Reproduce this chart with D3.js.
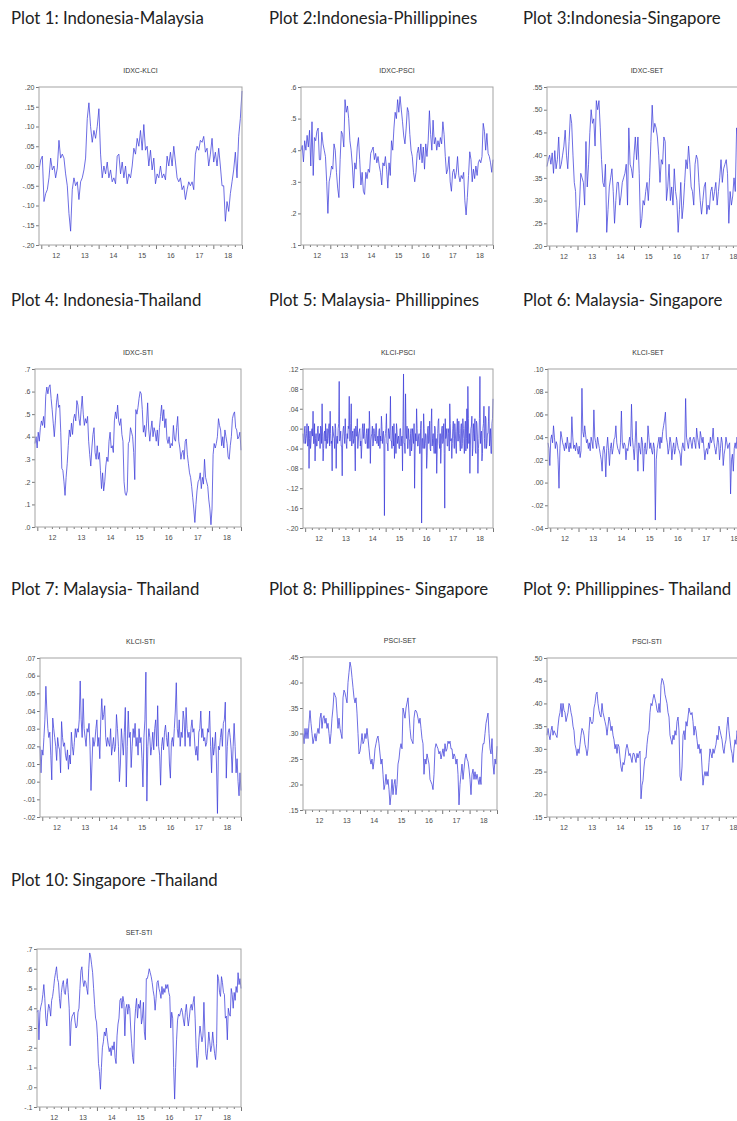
<!DOCTYPE html>
<html lang="en">
<head>
    <meta charset="UTF-8">
    <title>Pairwise correlation plots</title>
    <style>
        body{ margin:0; background:#fff; }
        svg{ display:block; }
        .frame{ fill:none; stroke:#a3a3a3; stroke-width:1; }
        .series{ fill:none; stroke:#3d3dda; stroke-width:.75; stroke-linejoin:round; }
        .axis text{ font-family:"Liberation Sans", Arial, sans-serif; font-size:7px; fill:#4a4a4a; }
        .axis line{ stroke:#777; }
        .axis path{ display:none; }
        .ptitle{ font-family:"Liberation Sans", Arial, sans-serif; font-size:7px; fill:#333; text-anchor:middle; }
        .rtitle{ font-family:Lato, "Open Sans", sans-serif; font-size:16.8px; fill:#222; }
    </style>
    <script src="https://cdn.jsdelivr.net/npm/d3@7"></script>
</head>
<body>
<script>
    const width = 737
    const height = 1121

    // ---- data ----
    const yearLabels = [2012, 2013, 2014, 2015, 2016, 2017, 2018]
    const plotTitles = ["Plot 1: Indonesia-Malaysia", "Plot 2:Indonesia-Phillippines", "Plot 3:Indonesia-Singapore",
        "Plot 4: Indonesia-Thailand", "Plot 5: Malaysia- Phillippines", "Plot 6: Malaysia- Singapore",
        "Plot 7: Malaysia- Thailand", "Plot 8: Phillippines- Singapore", "Plot 9: Phillippines- Thailand",
        "Plot 10: Singapore -Thailand"]
    const seriesNames = ["IDXC-KLCI", "IDXC-PSCI", "IDXC-SET", "IDXC-STI", "KLCI-PSCI",
        "KLCI-SET", "KLCI-STI", "PSCI-SET", "PSCI-STI", "SET-STI"]

    const idxcKlci = [-.01,.015,.025,-.09,-.07,-.06,-.03,.02,-.01,0,-.03,-.005,.065,.02,.03,.02,-.02,-.05,-.12,-.165,-.06,-.03,-.05,-.04,-.085,-.04,-.03,-.01,.02,.12,.16,.10,.06,.09,.07,.10,.145,.03,-.03,0,-.02,.01,-.03,-.01,-.04,-.03,-.045,.025,.03,-.02,.01,-.03,0,-.045,-.02,-.03,0,.045,.03,.07,.05,.09,.04,.105,.04,.05,0,.04,-.01,.02,-.045,-.02,-.03,0,-.03,-.02,-.035,.025,0,.035,0,.05,.01,-.03,-.04,-.03,-.06,-.05,-.085,-.06,-.04,-.05,-.04,-.06,.03,.05,.04,.065,.06,.075,.035,.045,0,.03,.07,.01,.035,0,.045,0,-.05,-.05,-.14,-.09,-.115,-.07,-.04,-.01,.035,-.03,.075,.12,.19]
    const idxcPsci = [.40,.415,.363,.43,.40,.447,.41,.463,.35,.49,.32,.44,.43,.46,.47,.37,.37,.457,.42,.40,.38,.30,.20,.30,.32,.35,.34,.42,.40,.33,.28,.25,.37,.46,.45,.41,.56,.52,.54,.50,.43,.40,.35,.28,.36,.34,.41,.44,.37,.29,.33,.27,.26,.33,.31,.34,.33,.39,.40,.41,.37,.39,.36,.38,.35,.33,.29,.36,.35,.38,.34,.28,.36,.32,.43,.40,.47,.52,.50,.56,.52,.57,.53,.49,.445,.42,.47,.535,.52,.45,.40,.38,.33,.30,.33,.39,.41,.37,.42,.36,.41,.34,.42,.38,.43,.525,.45,.40,.495,.42,.44,.40,.43,.41,.44,.42,.49,.45,.38,.325,.34,.38,.30,.27,.33,.34,.31,.33,.38,.32,.30,.32,.31,.33,.24,.195,.25,.32,.395,.37,.30,.34,.31,.35,.32,.36,.37,.36,.38,.485,.46,.40,.453,.39,.38,.36,.33,.37]
    const idxcSet = [.375,.39,.40,.38,.405,.36,.41,.37,.39,.44,.37,.38,.40,.42,.455,.40,.37,.43,.49,.47,.40,.34,.32,.23,.26,.29,.36,.35,.34,.29,.43,.33,.38,.45,.50,.47,.48,.42,.52,.50,.52,.46,.39,.34,.33,.38,.23,.28,.33,.35,.37,.32,.25,.30,.34,.34,.29,.31,.34,.35,.36,.38,.29,.46,.38,.37,.35,.40,.44,.39,.44,.36,.24,.26,.30,.29,.32,.34,.30,.35,.43,.51,.45,.47,.46,.44,.40,.34,.39,.38,.44,.43,.30,.33,.38,.30,.33,.29,.37,.32,.30,.23,.28,.34,.26,.29,.34,.39,.37,.42,.38,.33,.32,.29,.38,.40,.39,.34,.30,.27,.30,.33,.34,.27,.29,.28,.32,.33,.30,.32,.34,.29,.32,.35,.39,.34,.37,.38,.39,.36,.25,.32,.29,.31,.35,.32,.46,.44,.41,.43,.39,.37,.40,.38,.36]
    const idxcSti = [.37,.40,.35,.42,.38,.44,.47,.45,.49,.44,.58,.62,.59,.62,.63,.57,.52,.46,.40,.47,.55,.59,.53,.54,.42,.26,.25,.20,.14,.22,.28,.36,.43,.40,.46,.41,.48,.50,.47,.56,.54,.48,.45,.52,.58,.50,.45,.48,.46,.49,.38,.32,.27,.35,.41,.44,.33,.30,.36,.30,.33,.25,.17,.24,.16,.20,.27,.31,.29,.38,.42,.35,.36,.33,.47,.51,.48,.54,.47,.45,.48,.41,.38,.20,.15,.14,.16,.37,.38,.44,.42,.40,.33,.21,.52,.50,.53,.57,.60,.59,.52,.42,.45,.40,.46,.55,.43,.38,.43,.47,.40,.44,.42,.38,.43,.36,.44,.49,.54,.47,.52,.44,.48,.39,.37,.40,.35,.37,.36,.45,.39,.38,.44,.49,.38,.35,.30,.33,.34,.30,.38,.39,.32,.28,.24,.22,.18,.13,.08,.02,.10,.16,.20,.21,.24,.17,.22,.19,.30,.22,.20,.18,.12,.08,.01,.08,.32,.37,.35,.37,.40,.48,.45,.43,.36,.40,.35,.43,.40,.37,.31,.30,.36,.40,.48,.50,.51,.44,.43,.39,.40,.42,.34]
    const klciPsci = [-.01,-.025,-.03,0,.005,-.03,-.02,-.01,.01,-.035,-.035,.005,-.08,-.02,-.005,-.04,-.025,-.005,0,-.015,
        .035,-.03,-.03,.01,-.065,-.02,-.01,-.035,-.035,0,.005,-.025,-.02,-.01,-.04,.005,0,-.03,.05,-.015,
        -.065,-.04,-.01,-.005,-.025,.01,-.04,-.02,0,-.03,-.02,0,.01,-.035,.035,-.01,-.03,-.025,-.085,.005,
        -.005,-.015,-.02,-.04,.01,0,-.08,-.02,-.015,-.03,0,.01,.095,-.025,-.02,-.005,-.035,-.035,-.095,-.015,
        0,.005,-.015,-.03,.02,-.01,-.03,-.04,-.01,-.02,.005,0,.065,-.025,-.025,.01,.05,-.035,-.01,-.005,
        -.03,-.02,0,-.03,-.085,.005,-.015,-.015,.02,-.04,-.025,-.01,-.005,0,-.035,-.025,-.06,-.035,0,.01,
        -.02,-.005,.01,-.02,-.03,-.03,-.01,0,-.04,-.015,0,-.04,.035,.005,-.07,-.025,-.015,-.01,.005,-.035,
        -.03,0,-.01,-.02,-.025,.01,.01,-.03,-.02,-.015,-.035,-.005,0,-.04,-.015,-.025,.025,.005,-.03,-.01,
        -.005,-.035,-.175,-.02,-.01,0,.03,-.03,-.03,-.045,0,-.01,-.02,.005,.065,-.025,-.025,-.04,.005,-.015,
        -.035,.01,-.06,-.03,-.01,-.05,.01,-.005,-.03,-.02,-.015,-.04,-.04,0,0,-.035,-.02,-.015,-.085,.015,
        .11,-.03,-.03,-.05,.07,-.01,-.02,.005,-.04,-.04,0,-.02,-.025,-.055,-.01,0,-.045,-.03,0,-.015,
        -.03,.01,-.12,-.045,-.01,-.025,.04,0,-.035,-.035,-.015,-.01,-.05,-.05,0,.015,-.19,-.02,-.02,-.04,
        .03,0,-.04,-.03,-.01,-.015,-.08,-.055,0,.005,-.03,-.025,.015,-.04,-.045,.01,.04,-.035,-.02,-.01,
        -.035,-.05,.005,0,-.05,-.02,-.09,-.045,-.01,.015,.02,-.03,-.04,-.01,-.07,-.04,0,.005,-.03,-.025,
        .01,-.05,-.16,.02,-.02,-.015,0,-.035,-.035,0,-.01,-.045,.05,.01,-.025,-.02,-.06,-.03,0,.015,
        -.02,-.04,.01,-.005,-.035,-.05,-.005,.02,-.025,-.025,.015,-.01,-.03,-.045,0,.01,-.04,-.03,.02,0,
        -.02,-.05,0,.015,-.045,-.02,.04,-.04,.085,.02,-.03,-.01,-.09,-.035,0,.005,.025,-.055,-.04,.01,
        -.01,-.025,.02,-.045,-.05,.015,.01,-.015,-.09,-.04,-.02,.02,.105,-.03,-.01,-.005,-.065,-.05,0,.01,
        .045,-.02,-.04,.025,.02,-.04,-.03,-.01,-.01,.015,.045,-.035,-.02,0,-.05,-.05,.01,.02,.06]
    const klciSet = [.035,.03,.015,.038,.042,.035,.05,.04,.03,.036,.033,.02,-.005,.03,.045,.04,.035,.032,.028,.035,.03,.04,.033,.027,.035,.03,.058,.04,.03,.033,.028,.035,.03,.025,.032,.022,.028,.083,.045,.04,.05,.042,.035,.038,.03,.035,.028,.04,.036,.03,.064,.04,.035,.03,.04,.035,.03,.025,.02,.01,.028,.032,.025,.005,.03,.04,.028,.015,.03,.035,.025,.03,.038,.04,.05,.035,.03,.028,.025,.035,.063,.035,.03,.035,.033,.02,.03,.028,.035,.04,.032,.069,.04,.03,.02,.035,.054,.03,.01,.035,.03,.025,.04,.035,.01,.03,.035,.025,.03,.05,.04,.03,.035,.028,.025,.035,.03,-.033,.02,.03,.035,.04,.03,.04,.035,.045,.05,.055,.062,.04,.035,.025,.03,.04,.035,.02,.03,.035,.025,.03,.04,.035,.03,.028,.025,.015,.03,.035,.03,.028,.074,.04,.035,.03,.038,.04,.035,.03,.038,.04,.035,.03,.048,.04,.035,.03,.045,.04,.035,.04,.03,.02,.028,.03,.025,.035,.03,.04,.035,.038,.048,.035,.03,.025,.032,.04,.035,.02,.03,.04,.035,.015,.025,.03,.04,.035,.03,.033,.035,-.01,.02,.025,.01,.03,.035,.03,.04,.035,.03,.035,.028,.04,.032,.035,.03,.025,.035,.03,.04]
    const klciSti = [.02,.005,.018,.015,.025,.035,.054,.04,.03,.025,.028,.015,.001,.036,.03,.025,.02,.012,.025,.02,.018,.005,.034,.025,.02,.022,.015,.012,.018,.007,.015,.01,.028,.02,.015,.022,.03,.025,.03,.028,.035,.057,.035,.025,.047,.03,.025,.02,.03,.028,.033,.02,-.005,.01,.025,.02,.023,.03,.035,.02,.025,.013,.035,.047,.035,.038,.043,.025,.02,.025,.022,.02,.03,.015,.02,.025,.017,.02,.038,.03,.02,0,.01,.03,.022,.015,.028,.042,-.003,.02,.04,.025,.028,.008,.02,.03,.025,.033,.02,.025,.015,.03,.022,.025,.013,-.003,.025,.035,.062,-.011,.02,.03,.025,.015,.02,.028,.018,.03,.035,.02,.043,.02,.015,-.002,.02,.025,.018,.028,.032,.025,.02,.028,.01,.002,.022,.025,.02,.03,.04,.056,.03,.025,.035,.02,.028,.025,.04,.035,.02,.042,.03,.025,.028,.02,.03,.035,.028,.03,.02,.015,.02,.012,.028,.03,.04,.025,.03,.023,.025,.02,.022,.03,.028,.04,.02,.005,.025,.015,.02,.028,.01,-.018,.02,.018,.025,.03,.02,.033,.035,.045,.002,.02,.028,.03,.025,.018,.005,.02,.033,.02,.005,.013,0,-.008,.005,-.005]
    const psciSet = [.30,.28,.31,.29,.31,.29,.32,.345,.32,.30,.28,.29,.30,.285,.30,.31,.30,.33,.34,.31,.33,.335,.32,.33,.31,.32,.30,.28,.30,.33,.35,.38,.375,.37,.34,.31,.33,.31,.30,.29,.37,.385,.38,.37,.36,.40,.42,.44,.43,.41,.39,.37,.36,.37,.34,.30,.26,.265,.28,.30,.28,.285,.30,.29,.31,.29,.27,.25,.24,.25,.23,.245,.27,.28,.29,.295,.28,.26,.24,.25,.22,.19,.20,.22,.20,.21,.19,.16,.18,.21,.18,.20,.21,.18,.20,.24,.25,.27,.28,.27,.35,.34,.33,.35,.36,.37,.34,.31,.29,.285,.28,.33,.345,.345,.34,.33,.32,.33,.31,.29,.28,.22,.25,.24,.26,.25,.24,.21,.205,.20,.19,.22,.27,.28,.275,.27,.26,.265,.25,.26,.27,.255,.28,.265,.27,.285,.28,.285,.27,.27,.25,.26,.255,.24,.25,.22,.16,.20,.22,.24,.21,.23,.25,.26,.25,.245,.23,.21,.18,.22,.23,.21,.225,.21,.22,.21,.20,.215,.20,.26,.28,.28,.30,.32,.33,.34,.30,.27,.26,.29,.24,.22,.25,.24,.275]
    const psciSti = [.33,.345,.33,.32,.34,.35,.33,.34,.335,.33,.325,.35,.37,.38,.40,.37,.40,.385,.38,.36,.37,.38,.40,.395,.38,.37,.35,.34,.31,.30,.285,.30,.29,.31,.33,.345,.34,.33,.31,.30,.285,.30,.34,.37,.36,.355,.36,.39,.40,.42,.425,.40,.385,.375,.37,.40,.38,.37,.36,.35,.33,.35,.37,.36,.34,.35,.33,.32,.30,.31,.29,.31,.305,.28,.26,.25,.27,.265,.28,.30,.31,.30,.285,.29,.28,.27,.29,.29,.28,.27,.29,.28,.29,.295,.19,.22,.23,.26,.28,.28,.31,.33,.34,.38,.40,.395,.41,.42,.41,.40,.385,.38,.40,.38,.44,.455,.45,.44,.42,.41,.40,.38,.37,.33,.32,.31,.33,.32,.34,.33,.36,.37,.34,.24,.23,.26,.33,.34,.32,.36,.35,.37,.39,.38,.375,.38,.36,.33,.35,.34,.32,.30,.31,.29,.30,.26,.22,.24,.25,.24,.25,.24,.27,.30,.29,.28,.30,.29,.30,.31,.33,.32,.35,.34,.33,.32,.30,.29,.31,.32,.35,.37,.34,.32,.30,.29,.27,.30,.32,.31,.34,.33,.32,.30,.31,.33,.34,.32,.31,.30,.32]
    const setSti = [.38,.39,.24,.38,.41,.43,.47,.52,.45,.35,.31,.38,.42,.40,.36,.44,.46,.50,.55,.58,.61,.55,.53,.45,.40,.48,.52,.54,.48,.47,.52,.55,.48,.40,.21,.33,.36,.37,.38,.33,.30,.31,.38,.40,.50,.59,.61,.54,.51,.54,.53,.50,.47,.60,.68,.66,.62,.58,.50,.42,.35,.33,.25,.12,.08,-.01,.10,.20,.23,.28,.26,.30,.25,.21,.18,.20,.16,.21,.19,.23,.15,.12,.26,.32,.35,.44,.45,.40,.46,.43,.26,.40,.42,.37,.42,.40,.30,.22,.15,.12,.32,.40,.45,.35,.42,.40,.44,.32,.35,.43,.28,.24,.55,.55,.57,.60,.58,.56,.53,.49,.46,.39,.45,.53,.54,.50,.48,.45,.51,.47,.50,.48,.52,.50,.52,.48,.46,.30,.38,.35,.10,-.06,.10,.24,.34,.37,.36,.38,.40,.38,.34,.31,.38,.42,.36,.31,.35,.40,.42,.39,.43,.46,.35,.20,.10,.16,.25,.31,.27,.23,.26,.43,.28,.17,.14,.20,.28,.23,.18,.21,.28,.22,.17,.14,.22,.57,.55,.48,.46,.56,.53,.48,.47,.35,.36,.24,.40,.37,.36,.50,.47,.40,.48,.44,.51,.48,.58,.52,.55,.50]

    const yTicks1 = [-.20,-.15,-.10,-.05,.00,.05,.10,.15,.20]
    const yTicks2 = [.1,.2,.3,.4,.5,.6]
    const yTicks3 = [.20,.25,.30,.35,.40,.45,.50,.55]
    const yTicks4 = [.0,.1,.2,.3,.4,.5,.6,.7]
    const yTicks5 = [-.20,-.16,-.12,-.08,-.04,.00,.04,.08,.12]
    const yTicks6 = [-.04,-.02,.00,.02,.04,.06,.08,.10]
    const yTicks7 = [-.02,-.01,.00,.01,.02,.03,.04,.05,.06,.07]
    const yTicks8 = [.15,.20,.25,.30,.35,.40,.45]
    const yTicks9 = [.15,.20,.25,.30,.35,.40,.45,.50]
    const yTicks10 = [-.1,.0,.1,.2,.3,.4,.5,.6,.7]

    const allSeries = [idxcKlci, idxcPsci, idxcSet, idxcSti, klciPsci, klciSet, klciSti, psciSet, psciSti, setSti]
    const allTicks = [yTicks1, yTicks2, yTicks3, yTicks4, yTicks5, yTicks6, yTicks7, yTicks8, yTicks9, yTicks10]
    const tickDigits = [2, 1, 2, 1, 2, 2, 2, 2, 2, 1]

    // ---- layout ----
    const boxes = [
        {x:39, y:87, w:203, h:158}, {x:301, y:87, w:192, h:158}, {x:547, y:87, w:200, h:159},
        {x:35, y:369, w:206, h:158}, {x:303, y:369, w:190, h:159}, {x:548, y:369, w:200, h:159},
        {x:40, y:658, w:201, h:159}, {x:303, y:657, w:194, h:153}, {x:547, y:658, w:200, h:159},
        {x:37, y:949, w:204, h:158}
    ]
    const rowTitleY = [24, 306, 595, 886]
    const colTitleX = [11, 269, 523]

    const tStart = 2011.92, tEnd = 2019.0

    // EViews style labels: .20  -.05  .0
    const evFmt = (d, p) => d.toFixed(p).replace(/^(-?)0\./, "$1.")

    let svg = d3.select("body").append("svg")
        .attr("width", width)
        .attr("height", height)
        .attr("viewBox", `0 0 ${width} ${height}`)

    boxes.forEach((b, i) => {
        const data = allSeries[i]
        const ticks = allTicks[i]

        const x = d3.scaleLinear().domain([tStart, tEnd]).range([b.x, b.x + b.w])
        const y = d3.scaleLinear().domain(d3.extent(ticks)).range([b.y + b.h, b.y])
        // samples spread evenly over the period
        const idx = d3.scaleLinear().domain([0, data.length - 1]).range([tStart, tEnd])

        // big row title
        svg.append("text")
            .attr("class", "rtitle")
            .attr("x", colTitleX[i % 3])
            .attr("y", rowTitleY[Math.floor(i / 3)])
            .text(plotTitles[i])

        let g = svg.append("g")

        g.append("text")
            .attr("class", "ptitle")
            .attr("x", b.x + b.w / 2)
            .attr("y", b.y - 14)
            .text(seriesNames[i])

        g.append("g")
            .attr("class", "axis")
            .attr("transform", `translate(${b.x},0)`)
            .call(d3.axisLeft(y).tickValues(ticks).tickSize(3).tickPadding(1.5)
                .tickFormat(d => evFmt(d, tickDigits[i])))

        // quarter ticks, longer ones at each new year
        const quarters = d3.range(Math.ceil(tStart * 4), Math.floor(tEnd * 4) + 1).map(q => q / 4)
        g.append("g")
            .attr("class", "axis")
            .attr("transform", `translate(0,${b.y + b.h})`)
            .call(d3.axisBottom(x).tickValues(quarters).tickFormat("")
                .tickSizeInner(2).tickSizeOuter(0))
            .selectAll(".tick line")
            .attr("y2", d => Number.isInteger(d) ? 4 : 2)

        g.append("g")
            .attr("class", "axis")
            .attr("transform", `translate(0,${b.y + b.h})`)
            .call(d3.axisBottom(x).tickValues(yearLabels.map(yr => yr + .5)).tickSize(0).tickPadding(8)
                .tickFormat(d => String(Math.floor(d)).slice(2)))

        g.append("path")
            .datum(data)
            .attr("class", "series")
            .attr("d", d3.line().x((d, j) => x(idx(j))).y(d => y(d)))

        g.append("rect")
            .attr("class", "frame")
            .attr("x", b.x)
            .attr("y", b.y)
            .attr("width", b.w)
            .attr("height", b.h)
    })
</script>
</body>
</html>
